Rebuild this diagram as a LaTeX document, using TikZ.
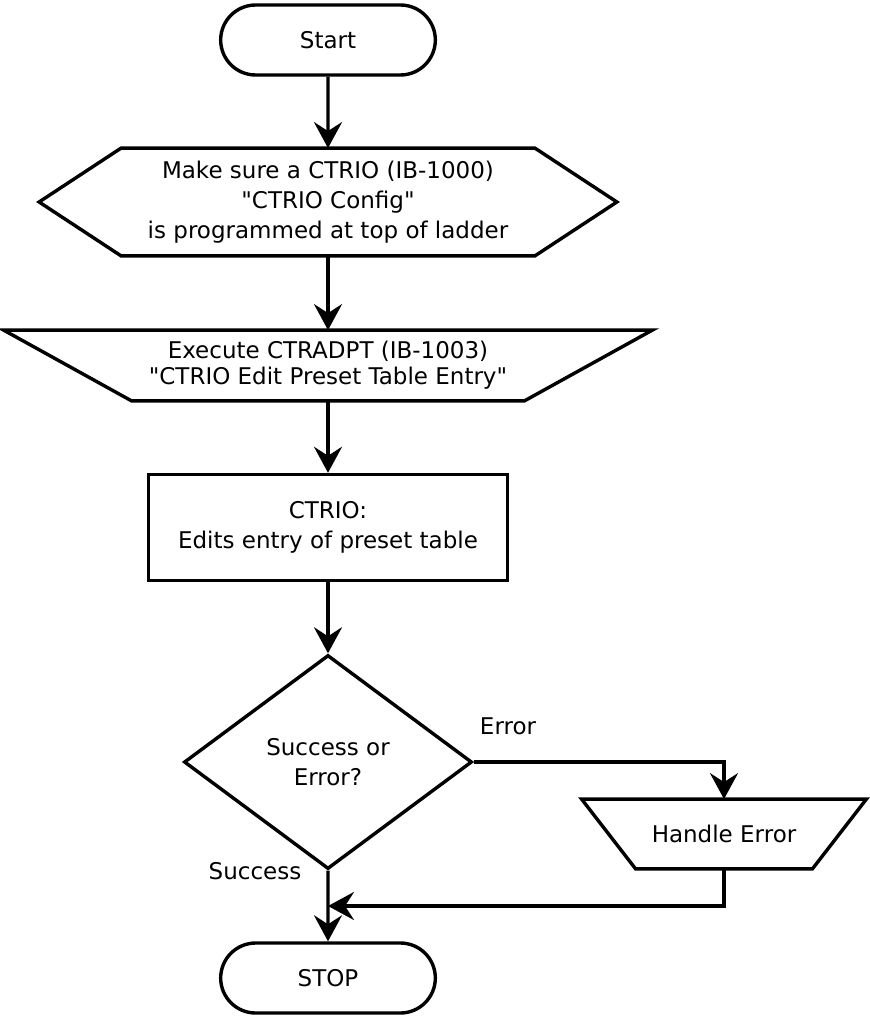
\documentclass[tikz,border=0pt]{standalone}
\usepackage{fontspec}
\setmainfont{DejaVu Sans}
\usetikzlibrary{arrows.meta,shapes.geometric,shapes.misc}
\tikzset{
  txt/.style={font=\fontsize{11.5}{15}\selectfont,align=center},
  outline/.style={line width=1.7pt,line join=miter},
  flow/.style={line width=1.7pt,-{Stealth[length=13pt,width=14pt,inset=4.5pt]}},
  term/.style={txt,rounded rectangle,draw,outline,minimum width=114pt,minimum height=35pt},
  procbox/.style={txt,rectangle,draw,outline,minimum width=179.5pt,minimum height=53pt},
  decbox/.style={txt,diamond,draw,outline,minimum width=144pt,minimum height=107pt,inner sep=0pt},
  shapebox/.style={txt,inner sep=0pt}
}
\begin{document}
\begin{tikzpicture}[x=0.5pt,y=-0.5pt]
\useasboundingbox (0,0) rectangle (870,1016);
\node[term] (start) at (328,40) {Start};
\node[shapebox,minimum width=288.5pt,minimum height=53.5pt] (cfg) at (328,202)
  {Make sure a CTRIO (IB-1000)\\\textquotedbl CTRIO Config\textquotedbl\\is programmed at top of ladder};
\draw[outline] (cfg.west) -- ([xshift=41pt]cfg.north west) -- ([xshift=-41pt]cfg.north east)
  -- (cfg.east) -- ([xshift=-41pt]cfg.south east) -- ([xshift=41pt]cfg.south west) -- cycle;
\node[shapebox,minimum width=324pt,minimum height=35pt,font=\fontsize{11.5}{13}\selectfont] (exec) at (328,365.5)
  {Execute CTRADPT (IB-1003)\\\textquotedbl CTRIO Edit Preset Table Entry\textquotedbl};
\draw[outline] (exec.north west) -- (exec.north east) -- ([xshift=-64pt]exec.south east)
  -- ([xshift=64pt]exec.south west) -- cycle;
\node[procbox] (proc) at (328,527.5) {CTRIO:\\Edits entry of preset table};
\node[decbox] (dec) at (328,762) {Success or\\Error?};
\node[shapebox,minimum width=142pt,minimum height=34.5pt] (handle) at (724,834) {Handle Error};
\draw[outline] (handle.north west) -- (handle.north east) -- ([xshift=-27pt]handle.south east)
  -- ([xshift=27pt]handle.south west) -- cycle;
\node[term] (stop) at (328,978) {STOP};
\coordinate (merge) at (328,906);
\node[txt] (errlbl) at (508,726) {Error};
\node[txt] (oklbl) at (255,871) {Success};
\draw[flow] (start) -- (cfg);
\draw[flow] (cfg) -- (exec);
\draw[flow] (exec) -- (proc);
\draw[flow] (proc) -- (dec);
\draw[flow] (dec.east) -| (handle.north);
\draw[flow] (handle.south) |- (merge);
\draw[flow] (dec) -- (stop);
\end{tikzpicture}
\end{document}
